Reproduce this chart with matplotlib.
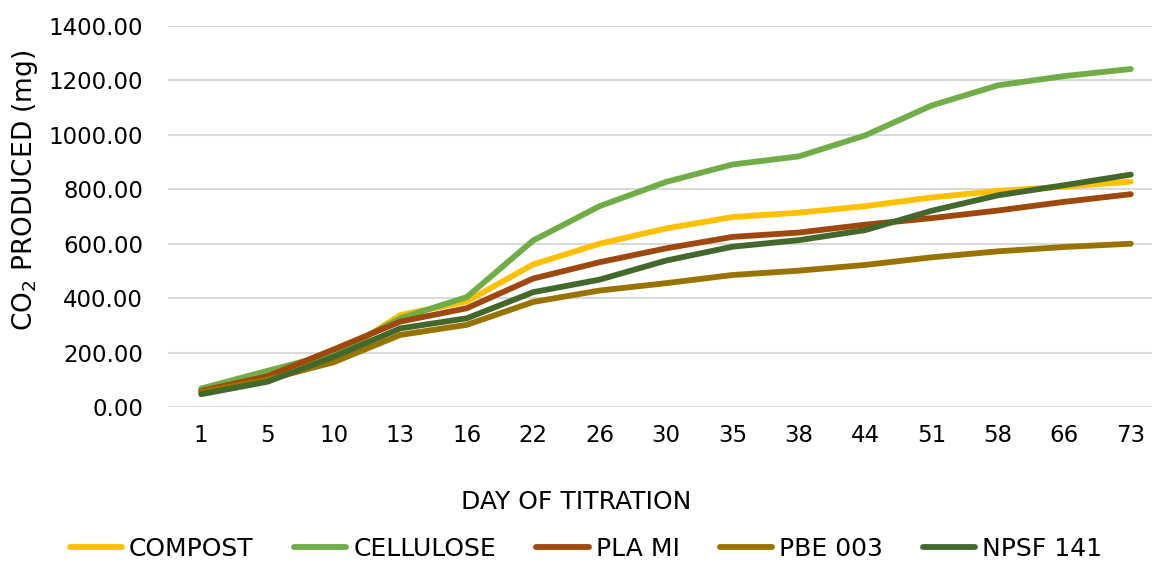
import matplotlib
matplotlib.use("Agg")
import matplotlib.pyplot as plt
from matplotlib.ticker import FuncFormatter

days = ["1", "5", "10", "13", "16", "22", "26", "30", "35", "38", "44", "51", "58", "66", "73"]

compost = [60, 112, 182, 338, 388, 524, 600, 656, 698, 714, 738, 770, 794, 810, 828]
cellulose = [68, 133, 197, 326, 404, 612, 738, 827, 891, 921, 998, 1108, 1182, 1216, 1242]
pla_mi = [59, 113, 212, 314, 363, 472, 532, 583, 625, 641, 670, 694, 722, 754, 782]
pbe_003 = [55, 101, 165, 265, 302, 386, 428, 455, 485, 501, 522, 550, 572, 588, 600]
npsf_141 = [47, 93, 185, 289, 326, 422, 468, 538, 589, 613, 650, 721, 778, 815, 854]

series = [
    ("COMPOST", compost, "#FFC000"),
    ("CELLULOSE", cellulose, "#70AD47"),
    ("PLA MI", pla_mi, "#9E480E"),
    ("PBE 003", pbe_003, "#997300"),
    ("NPSF 141", npsf_141, "#43682B"),
]

plt.rcParams["font.family"] = ["DejaVu Sans"]

fig = plt.figure(figsize=(11.52, 5.63), dpi=100)
# plot area in pixels: x 168..1164, y 26..407
ax = fig.add_axes([168 / 1152, 1 - 407 / 563, (1164 - 168) / 1152, (407 - 26) / 563])

x = list(range(len(days)))
for name, vals, col in series:
    ax.plot(x, vals, color=col, lw=4.2, label=name, solid_capstyle="round", solid_joinstyle="round")

ax.set_xlim(-0.5, len(days) - 0.5)
ax.set_ylim(0, 1400)
ax.set_yticks(range(0, 1401, 200))
ax.yaxis.set_major_formatter(FuncFormatter(lambda v, p: "{:.2f}".format(v)))
ax.set_xticks(x)
ax.set_xticklabels(days)

ax.grid(axis="y", color="#D9D9D9", lw=1.5)
ax.set_axisbelow(True)
for s in ax.spines.values():
    s.set_visible(False)
ax.tick_params(axis="both", length=0, labelsize=16.5, colors="#000000")
ax.tick_params(axis="y", pad=18)
ax.tick_params(axis="x", pad=12)

fig.text(25 / 1152, 1 - 190 / 563, r"CO$_2$ PRODUCED (mg)", rotation=90,
         ha="center", va="center", fontsize=19)
fig.text(0.5, 1 - 502 / 563, "DAY OF TITRATION", ha="center", va="center", fontsize=18)

fig.legend(loc="center", bbox_to_anchor=(586 / 1152, 1 - 549 / 563), ncol=5, frameon=False,
           fontsize=18, handlelength=2.1, handletextpad=0.28, columnspacing=1.6)

fig.savefig("out.png", dpi=100)
